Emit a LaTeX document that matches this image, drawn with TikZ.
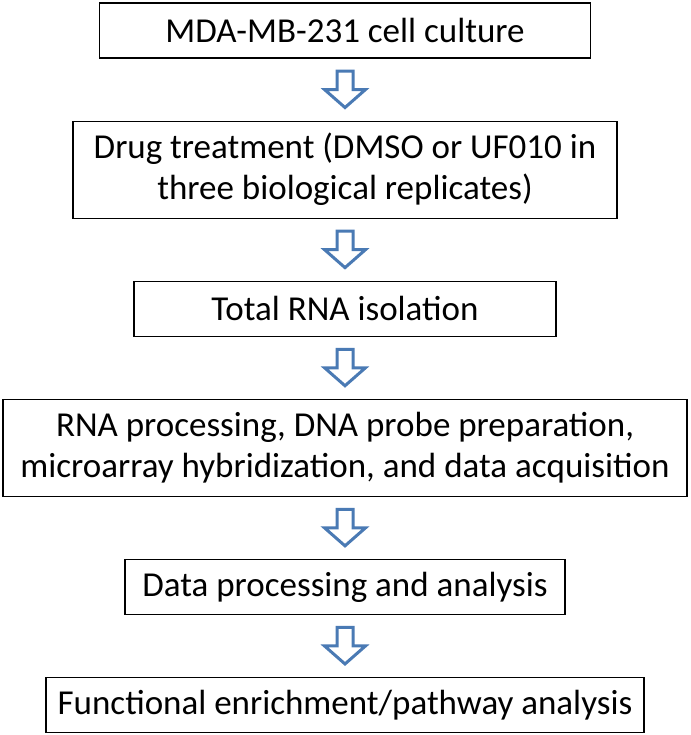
\documentclass[tikz,border=0pt]{standalone}
\usepackage{fontspec}
\setmainfont{Carlito}
\usetikzlibrary{positioning,calc}
\definecolor{arrblue}{RGB}{74,122,180}

% hollow block arrow between two boxes
\newcommand{\blockarr}[2]{%
  \path (#1.south) -- (#2.north) coordinate[midway] (m#1);
  \draw[flow] ($(m#1)+(-8,18.5)$) -- ($(m#1)+(8,18.5)$) -- ($(m#1)+(8,0)$)
    -- ($(m#1)+(20.5,0)$) -- ($(m#1)+(0,-18)$) -- ($(m#1)+(-20.5,0)$)
    -- ($(m#1)+(-8,0)$) -- cycle;}

\begin{document}
\begin{tikzpicture}[x=1pt,y=1pt]
\tikzstyle{step1}=[rectangle, draw=black, line width=1.1pt, align=center, inner sep=0pt,
  font=\fontsize{35}{41}\selectfont, minimum height=55pt, node distance=62pt]
\tikzstyle{two}=[minimum height=97pt]
\tikzstyle{flow}=[draw=arrblue, line width=3pt, fill=white, line join=miter]
\useasboundingbox (0,0) rectangle (690,-735);
  \node[step1, minimum width=491pt] (cult) at (345,-30.5) {MDA-MB-231 cell culture};
  \node[step1, two, minimum width=544pt] (drug) [below=of cult] {Drug treatment (DMSO or UF010 in\\three biological replicates)};
  \node[step1, minimum width=422pt] (rna) [below=of drug] {Total RNA isolation};
  \node[step1, two, minimum width=684pt] (proc) [below=of rna] {RNA processing, DNA probe preparation,\\microarray hybridization, and data acquisition};
  \node[step1, minimum width=440pt] (data) [below=of proc] {Data processing and analysis};
  \node[step1, minimum width=598pt] (func) [below=of data] {Functional enrichment/pathway analysis};
  \blockarr{cult}{drug}
  \blockarr{drug}{rna}
  \blockarr{rna}{proc}
  \blockarr{proc}{data}
  \blockarr{data}{func}
\end{tikzpicture}
\end{document}
